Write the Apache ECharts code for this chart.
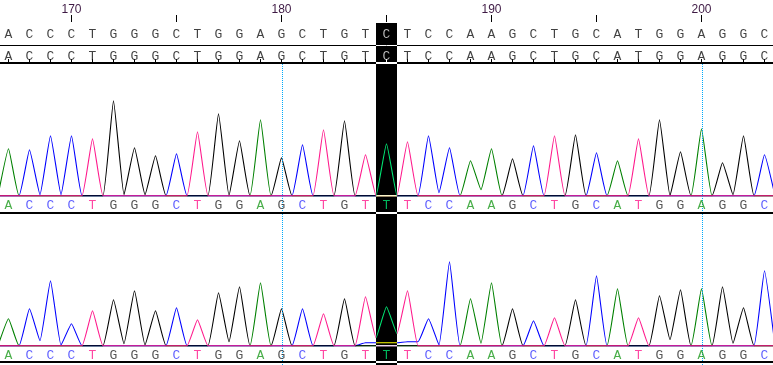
<!DOCTYPE html>
<html><head><meta charset="utf-8">
<script src="https://cdn.jsdelivr.net/npm/echarts@6/dist/echarts.min.js"></script>
<style>html,body{margin:0;padding:0;background:#fff}#c{width:773px;height:365px}</style>
</head><body><div id="c"></div>
<script>
// ---------- data ----------
const firstPos = 167;
const refBases   = ['A','C','C','C','T','G','G','G','C','T','G','G','A','G','C','T','G','T','C','T','C','C','A','A','G','C','T','G','C','A','T','G','G','A','G','G','C'];
const traceBases = ['A','C','C','C','T','G','G','G','C','T','G','G','A','G','C','T','G','T','T','T','C','C','A','A','G','C','T','G','C','A','T','G','G','A','G','G','C'];
// peak heights of the called base, trace 1 and trace 2
const peaks1 = [47,46,60,60,57,95,48,40,42,64,82,55,76,38,51,66,75,41,52,54,60,48,35,47,37,50,60,61,43,35,57,76,44,67,33,60,41];
const peaks2 = [27,37,65,22,35,46,55,35,38,26,53,59,63,37,37,32,47,49,39,55,27,84,47,63,37,25,28,46,70,57,28,50,56,57,59,38,75];
// trace level between two equal neighbouring bases [position, value]
const valleys1 = [[168.5,1],[169.5,1],[172.5,1],[173.5,1],[177.5,0],[184.5,0],[185.5,0],[187.5,3],[189.5,6],[198.5,0],[201.5,1]];
const valleys2 = [[168.5,5],[169.5,0.5],[172.5,2],[173.5,0.7],[177.5,4],[184.5,8],[185.5,12],[187.5,0.7],[189.5,2.4],[198.5,6],[201.5,2.4]];
// small secondary signals [position, base, value]
const minor1 = [];
const minor2 = [[184,'C',3],[185,'C',3],[186,'C',4]];
const rulerLabels = [170,180,190,200];
const majorTicks = [170,175,180,185,190,195,200];
const guides = [180,200];
const highlightPos = 185;

// ---------- styling ----------
const traceColor = {A:'#008000', C:'#0000ff', G:'#000000', T:'#ff1a8c'};
const letterColor = {A:'#1c9a1c', C:'#3a3aff', G:'#2a2a2a', T:'#ff1a8c'};
const channels = ['A','C','G','T'];
const positions = refBases.map((b,i)=>firstPos+i);
const xMin = 180 - 281.5/21, xMax = 180 + 491.5/21;

function channelData(peaks, valleys, minors, ch){
  const vmap = new Map(valleys.map(v=>[v[0], v[1]]));
  const mmap = new Map(minors.filter(m=>m[1]===ch).map(m=>[m[0], m[2]]));
  const val = i => traceBases[i]===ch ? peaks[i] : (mmap.get(positions[i]) || 0);
  const pts = [[positions[0]-0.5, 0]];
  const n = positions.length;
  for (let i=0;i<n;i++){
    pts.push([positions[i], val(i)]);
    if (i<n-1){
      const mid = positions[i]+0.5;
      let v;
      if (traceBases[i]===ch && traceBases[i+1]===ch) v = vmap.has(mid) ? vmap.get(mid) : 0;
      else v = Math.min(val(i), val(i+1));
      pts.push([mid, v]);
    }
  }
  pts.push([positions[n-1]+0.5, 0]);
  return pts;
}

const series = [];
// reference rows (grid 0)
[27.5, 5.5].forEach(y=>{
  series.push({
    type:'scatter', xAxisIndex:0, yAxisIndex:0, symbolSize:1, silent:true,
    itemStyle:{color:'rgba(0,0,0,0)'},
    label:{show:true, position:'inside', formatter:'{b}', color:'#111', fontFamily:'Liberation Mono', fontSize:13},
    data: positions.map((p,i)=>({name:refBases[i], value:[p,y]}))
  });
});
// traces
[[peaks1, valleys1, minor1, 2, -10], [peaks2, valleys2, minor2, 3, -9.8]].forEach(([pk, vl, mn, ax, ly], k)=>{
  channels.forEach((ch, ci)=>{
    const s = {
      type:'line', xAxisIndex:ax, yAxisIndex:k+1, data:channelData(pk, vl, mn, ch),
      smooth:0.12, symbol:'none', silent:true, z:2+ci,
      lineStyle:{color:traceColor[ch], width:1.1}
    };
    if (ci===0){
      s.markLine = {silent:true, symbol:'none', label:{show:false}, animation:false,
        lineStyle:{color:'#00a8f8', type:[1,1], width:1},
        data: guides.map(g=>({xAxis:g+0.04}))};
    }
    series.push(s);
  });
  series.push({
    type:'scatter', xAxisIndex:ax, yAxisIndex:k+1, symbolSize:1, silent:true, z:8,
    itemStyle:{color:'rgba(0,0,0,0)'},
    label:{show:true, position:'inside', formatter:'{b}', fontFamily:'Liberation Mono', fontSize:13},
    data: positions.map((p,i)=>({name:traceBases[i], value:[p,ly], label:{color:letterColor[traceBases[i]]}}))
  });
});

const chart = echarts.init(document.getElementById('c'), null, {renderer:'canvas'});
const hiddenX = gi => ({gridIndex:gi, type:'value', min:xMin, max:xMax, show:false});
chart.setOption({
  animation:false,
  backgroundColor:'#ffffff',
  grid:[
    {left:0, right:0, top:22, height:40, outerBoundsMode:'none'},
    {left:0, right:0, top:63, height:150, outerBoundsMode:'none'},
    {left:0, right:0, top:213, height:152, outerBoundsMode:'none'}
  ],
  xAxis:[
    {gridIndex:0, type:'value', min:xMin, max:xMax, position:'top',
      axisLine:{show:true, lineStyle:{color:'#000', width:1}},
      axisTick:{show:true, customValues:positions, length:3, lineStyle:{color:'#000'}},
      axisLabel:{show:false}, splitLine:{show:false}},
    {gridIndex:0, type:'value', min:xMin, max:xMax, position:'top',
      axisLine:{show:false},
      axisTick:{show:true, customValues:majorTicks, length:7, lineStyle:{color:'#000'}},
      axisLabel:{show:true, customValues:rulerLabels, margin:6, color:'#3e1a44', fontFamily:'Liberation Sans', fontSize:12},
      splitLine:{show:false}},
    hiddenX(1), hiddenX(2)
  ],
  yAxis:[
    {gridIndex:0, type:'value', min:0, max:40, show:false},
    {gridIndex:1, type:'value', min:-17.3, max:132.7, show:false},
    {gridIndex:2, type:'value', min:-19.3, max:132.7, show:false}
  ],
  series
});

const x0 = chart.convertToPixel({xAxisIndex:2}, highlightPos-0.5);
const x1 = chart.convertToPixel({xAxisIndex:2}, highlightPos+0.5);
const hline = (y,w)=>({type:'line', z:50, silent:true, shape:{x1:0,y1:y,x2:773,y2:y}, style:{stroke:'#000', lineWidth:w}});
chart.setOption({
  graphic:[
    hline(45.5,1), hline(63,2), hline(213,2), hline(362,2),
    {type:'rect', z:100, silent:true, shape:{x:x0, y:23, width:x1-x0, height:342},
     style:{fill:'#ffffff', blend:'difference'}}
  ]
});
</script></body></html>
